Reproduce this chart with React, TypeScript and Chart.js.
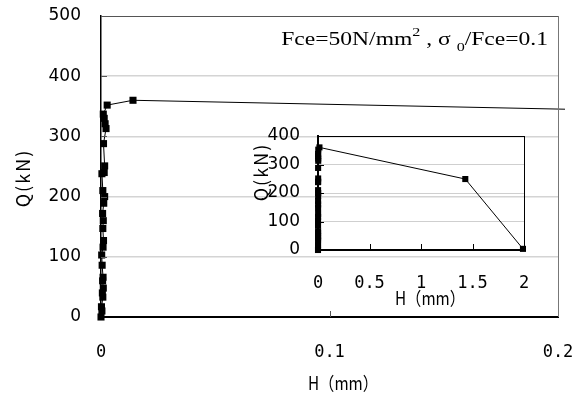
import React, { useEffect, useRef } from "react";
import { Chart, registerables } from "chart.js";

Chart.register(...registerables);

// Horizontal displacement H (mm) and shear force Q (kN)
const H_MM = [0, 0.0004, 0.0002, 0.0008, 0.0006, 0.001, 0.0007, 0.0009, 0.0005, 0.0003, 0.0009, 0.0011, 0.0008, 0.001, 0.0007, 0.0012, 0.0016, 0.0008, 0.0004, 0.0014, 0.0016, 0.0011, 0.0022, 0.0018, 0.0014, 0.001, 0.0027, 0.014, 1.43, 1.99];
const Q_KN = [0, 10, 17, 33, 40, 48, 60, 66, 86, 103, 116, 127, 147, 160, 172, 189, 200, 210, 238, 240, 251, 288, 313, 321, 330, 337, 352, 360, 249, 4];

const MAIN_X_TICKS = [0, 0.1, 0.2];
const MAIN_Y_TICKS = [0, 100, 200, 300, 400, 500];
const INSET_X_TICKS = [0, 0.5, 1, 1.5, 2];
const INSET_Y_TICKS = [0, 100, 200, 300, 400];

const X_TITLE = "H（mm）";
const Y_TITLE = "Q(kN)";

const points = H_MM.map((h, i) => ({ x: h, y: Q_KN[i] }));

const fmt = (v: number) => String(v);
const CLEAR = "rgba(0,0,0,0)";

function framePlugin(opts: { topColor: string; rightColor: string; xTicks: number[]; yTicks: number[]; tickLen: number; tickColor: string; xTitle: [number, number]; yTitle: [number, number]; extra?: (ctx: CanvasRenderingContext2D) => void }) {
  return {
    id: "frame",
    afterDraw(chart: any) {
      const ctx: CanvasRenderingContext2D = chart.ctx;
      const { left, right, top, bottom } = chart.chartArea;
      const xs = chart.scales.x;
      const ys = chart.scales.y;
      ctx.save();
      ctx.lineWidth = 1;
      ctx.strokeStyle = opts.topColor;
      ctx.beginPath();
      ctx.moveTo(left, top + 0.5);
      ctx.lineTo(right + 1, top + 0.5);
      ctx.stroke();
      ctx.strokeStyle = opts.rightColor;
      ctx.beginPath();
      ctx.moveTo(right + 0.5, top);
      ctx.lineTo(right + 0.5, bottom);
      ctx.stroke();
      ctx.strokeStyle = opts.tickColor;
      ctx.beginPath();
      opts.xTicks.forEach((v) => {
        const px = Math.round(xs.getPixelForValue(v)) + 0.5;
        ctx.moveTo(px, bottom);
        ctx.lineTo(px, bottom - opts.tickLen);
      });
      opts.yTicks.forEach((v) => {
        const py = Math.round(ys.getPixelForValue(v)) + 0.5;
        ctx.moveTo(left, py);
        ctx.lineTo(left + opts.tickLen, py);
      });
      ctx.stroke();
      ctx.fillStyle = "#000";
      ctx.textAlign = "center";
      ctx.textBaseline = "middle";
      ctx.save();
      ctx.translate(opts.xTitle[0], opts.xTitle[1]);
      ctx.scale(0.85, 1);
      ctx.font = '18px "Noto Sans CJK JP"';
      ctx.fillText(X_TITLE, 0, 0);
      ctx.restore();
      ctx.save();
      ctx.translate(opts.yTitle[0], opts.yTitle[1]);
      ctx.rotate(-Math.PI / 2);
      ctx.font = '18px "Noto Sans CJK JP"';
      (ctx as any).letterSpacing = "2px";
      ctx.fillText(Y_TITLE, 0, 0);
      ctx.restore();
      if (opts.extra) opts.extra(ctx);
      ctx.restore();
    },
  };
}

function drawAnnotation(ctx: CanvasRenderingContext2D) {
  const rightEdge = 548;
  const base = 45;
  const sx = 1.24;
  const big = '19px "Liberation Serif"';
  const small = '13px "Liberation Serif"';
  const parts: [string, string, number][] = [
    ["Fce=50N/mm", big, 0],
    ["2", small, -9],
    [" , σ ", big, 0],
    ["0", small, 6],
    ["/Fce=0.1", big, 0],
  ];
  let total = 0;
  parts.forEach(([t, f]) => {
    ctx.font = f;
    total += ctx.measureText(t).width;
  });
  ctx.save();
  ctx.translate(rightEdge - total * sx, base);
  ctx.scale(sx, 1);
  let x = 0;
  ctx.textAlign = "left";
  ctx.textBaseline = "alphabetic";
  ctx.fillStyle = "#000";
  parts.forEach(([t, f, dy]) => {
    ctx.font = f;
    ctx.fillText(t, x, dy);
    x += ctx.measureText(t).width;
  });
  ctx.restore();
}

function MainChart() {
  const ref = useRef<HTMLCanvasElement>(null);
  useEffect(() => {
    const chart = new Chart(ref.current!, {
      type: "scatter",
      data: {
        datasets: [
          {
            data: points,
            showLine: true,
            borderColor: "#000",
            borderWidth: 1,
            backgroundColor: "#000",
            pointStyle: "rect",
            pointRadius: 5,
            pointBorderWidth: 0,
            clip: { left: 6, top: 0, right: 7, bottom: 6 } as any,
          },
        ],
      },
      options: {
        animation: false,
        responsive: false,
        devicePixelRatio: 1,
        layout: { padding: { left: 0, right: 27, top: 16, bottom: 0 } },
        plugins: { legend: { display: false }, tooltip: { enabled: false } },
        scales: {
          x: {
            type: "linear",
            min: 0,
            max: 0.2,
            afterBuildTicks: (s: any) => {
              s.ticks = MAIN_X_TICKS.map((v) => ({ value: v }));
            },
            afterFit: (s: any) => {
              s.height = 77;
            },
            ticks: {
              color: "#000",
              font: { family: "DejaVu Sans Mono", size: 17 },
              padding: 0,
              maxRotation: 0,
              callback: (v: any) => fmt(v),
            },
            grid: { display: true, color: CLEAR, drawTicks: true, tickLength: 25, tickColor: CLEAR },
            border: { color: "#000", width: 2 },
          },
          y: {
            type: "linear",
            min: 0,
            max: 500,
            afterBuildTicks: (s: any) => {
              s.ticks = MAIN_Y_TICKS.map((v) => ({ value: v }));
            },
            afterFit: (s: any) => {
              s.width = 101;
            },
            ticks: {
              color: "#000",
              font: { family: "DejaVu Sans", size: 17 },
              padding: 0,
              callback: (v: any) => fmt(v),
            },
            grid: {
              color: (c: any) => (c.tick && (c.tick.value === 0 || c.tick.value === 500) ? CLEAR : "#d4d4d4"),
              drawTicks: true,
              tickLength: 20,
              tickColor: CLEAR,
              lineWidth: 1.5,
            },
            border: { color: "#000", width: 1.5 },
          },
        },
      },
      plugins: [
        framePlugin({
          topColor: "#555",
          rightColor: "#777",
          xTicks: [0.1],
          yTicks: [100, 200, 300, 400],
          tickLen: 6,
          tickColor: "#555",
          xTitle: [343, 383],
          yTitle: [23, 178],
          extra: drawAnnotation,
        }) as any,
      ],
    });
    return () => chart.destroy();
  }, []);
  return <canvas ref={ref} width={585} height={394} style={{ position: "absolute", left: 0, top: 0, width: 585, height: 394 }} />;
}

function InsetChart() {
  const ref = useRef<HTMLCanvasElement>(null);
  const OX = 230;
  const OY = 120;
  useEffect(() => {
    const chart = new Chart(ref.current!, {
      type: "scatter",
      data: {
        datasets: [
          {
            data: points,
            showLine: true,
            borderColor: "#000",
            borderWidth: 1,
            backgroundColor: "#000",
            pointStyle: "rect",
            pointRadius: 4.3,
            pointBorderWidth: 0,
            clip: { left: 5, top: 5, right: 5, bottom: 5 } as any,
          },
        ],
      },
      options: {
        animation: false,
        responsive: false,
        devicePixelRatio: 1,
        layout: { padding: { left: 0, right: 26, top: 16, bottom: 0 } },
        plugins: { legend: { display: false }, tooltip: { enabled: false } },
        scales: {
          x: {
            type: "linear",
            min: 0,
            max: 2,
            afterBuildTicks: (s: any) => {
              s.ticks = INSET_X_TICKS.map((v) => ({ value: v }));
            },
            afterFit: (s: any) => {
              s.height = 65;
            },
            ticks: {
              color: "#000",
              font: { family: "DejaVu Sans Mono", size: 17 },
              padding: 0,
              maxRotation: 0,
              autoSkip: false,
              callback: (v: any) => fmt(v),
            },
            grid: { display: true, color: CLEAR, drawTicks: true, tickLength: 23, tickColor: CLEAR },
            border: { color: "#000", width: 2 },
          },
          y: {
            type: "linear",
            min: 0,
            max: 400,
            afterBuildTicks: (s: any) => {
              s.ticks = INSET_Y_TICKS.map((v) => ({ value: v }));
            },
            afterFit: (s: any) => {
              s.width = 88;
            },
            ticks: {
              color: "#000",
              font: { family: "DejaVu Sans", size: 17 },
              padding: 0,
              callback: (v: any) => fmt(v),
            },
            grid: {
              color: (c: any) => (c.tick && (c.tick.value === 0 || c.tick.value === 400) ? CLEAR : "#cfcfcf"),
              drawTicks: true,
              tickLength: 18,
              tickColor: CLEAR,
            },
            border: { color: "#000", width: 2 },
          },
        },
      },
      plugins: [
        framePlugin({
          topColor: "#000",
          rightColor: "#000",
          xTicks: [0.5, 1, 1.5],
          yTicks: [100, 200, 300],
          tickLen: 6,
          tickColor: "#000",
          xTitle: [430 - OX, 298 - OY],
          yTitle: [261 - OX, 172 - OY],
        }) as any,
      ],
    });
    return () => chart.destroy();
  }, []);
  return <canvas ref={ref} width={320} height={195} style={{ position: "absolute", left: OX, top: OY, width: 320, height: 195 }} />;
}

export default function App() {
  return (
    <div style={{ position: "fixed", left: 0, top: 0, width: 585, height: 394, background: "#fff" }}>
      <MainChart />
      <InsetChart />
    </div>
  );
}
